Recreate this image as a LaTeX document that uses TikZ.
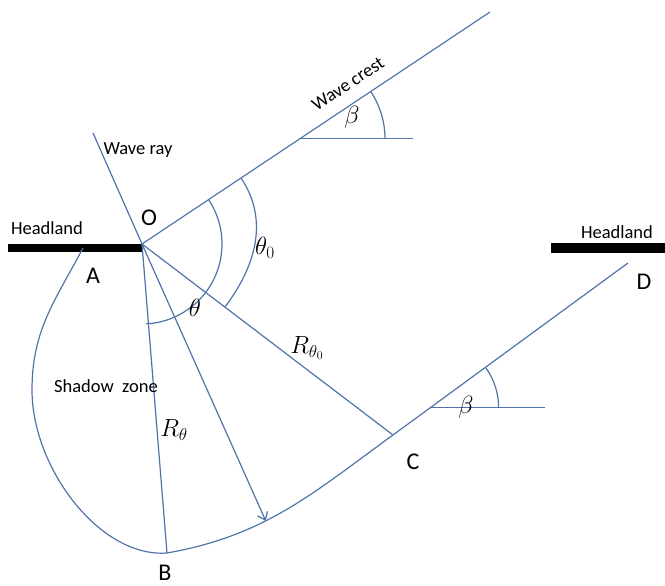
\documentclass[tikz,border=0pt]{standalone}
\usepackage{fontspec}
\setmainfont{Carlito}
\usetikzlibrary{arrows.meta,calc}
\definecolor{ln}{RGB}{80,115,170}
\begin{document}
\begin{tikzpicture}[x=1pt,y=1pt,
  ln/.style={draw=ln, line width=1.2pt},
  bar/.style={fill=black},
  lbl/.style={font=\fontsize{18.5}{20}\selectfont, inner sep=0pt},
  ptl/.style={font=\fontsize{24}{26}\selectfont, inner sep=0pt},
  mth/.style={font=\fontsize{25}{27}\selectfont, inner sep=0pt}]
\useasboundingbox (0,0) rectangle (665,586);
% headlands
\fill[bar] (8,334) rectangle (142,342);
\fill[bar] (551,333) rectangle (665,343);
% key points
\coordinate (O) at (142,342);
\coordinate (W) at (93,453);
\coordinate (E) at (490,574);
\coordinate (A) at (83,338);
\coordinate (L) at (32,196);
\coordinate (B) at (167,33);
\coordinate (C) at (393,151);
\coordinate (D) at (628,323);
% wave ray and wave crest
\draw[ln] (W) -- (O);
\draw[ln] (O) -- (E);
% shadow zone boundary
\draw[ln] (A) .. controls (55,285) and (32,256) .. (L)
  .. controls (32,118) and (100,28) .. (B)
  to[out=10,in=216] coordinate[pos=0.4] (T) (C) -- (D);
% radii
\draw[ln] (O) -- (B);
\draw[ln] (O) -- (C);
\draw[ln,-{Straight Barb[length=7pt,width=11pt]}] (O) -- (T);
% angle arcs at O
\draw[ln] ($(O)+(33.7:80)$) arc[start angle=33.7, end angle=-87, radius=80];
\draw[ln] (241,408) to[out=-56,in=53] (225,279);
% beta at wave crest
\coordinate (H1) at ($(O)!0.454!(E)$);
\coordinate (H1e) at ($(H1)+(113,0)$);
\draw[ln] (H1) -- (H1e);
\draw[ln] ($(H1)+(85,0)$) arc[start angle=0, end angle=33.7, radius=85];
% beta at C-D
\coordinate (H2) at ($(C)!0.16!(D)$);
\coordinate (H2e) at ($(H2)+(114,0)$);
\draw[ln] (H2) -- (H2e);
\draw[ln] ($(H2)+(68,0)$) arc[start angle=0, end angle=36.2, radius=68];
% labels
\node[lbl] (hl1) at (47,358) {Headland};
\node[lbl] (hl2) at (617,354) {Headland};
\node[lbl] (wr) at (138,436) {Wave ray};
\node[lbl] (sz) at (106,200) {Shadow\ \ zone};
\node[lbl,rotate=33.7] (wc) at (348,502) {Wave crest};
\node[ptl] (lO) at (149,368) {O};
\node[ptl] (lA) at (93,310) {A};
\node[ptl] (lB) at (165,13) {B};
\node[ptl] (lC) at (413,124) {C};
\node[ptl] (lD) at (644,304) {D};
\node[mth] (t0) at (265,338) {$\theta_0$};
\node[mth] (t) at (195,278) {$\theta$};
\node[mth] (r0) at (307,238) {$R_{\theta_0}$};
\node[mth] (r) at (174,156) {$R_\theta$};
\node[mth] (b1) at (352,469) {$\beta$};
\node[mth] (b2) at (466,179) {$\beta$};
\end{tikzpicture}
\end{document}
